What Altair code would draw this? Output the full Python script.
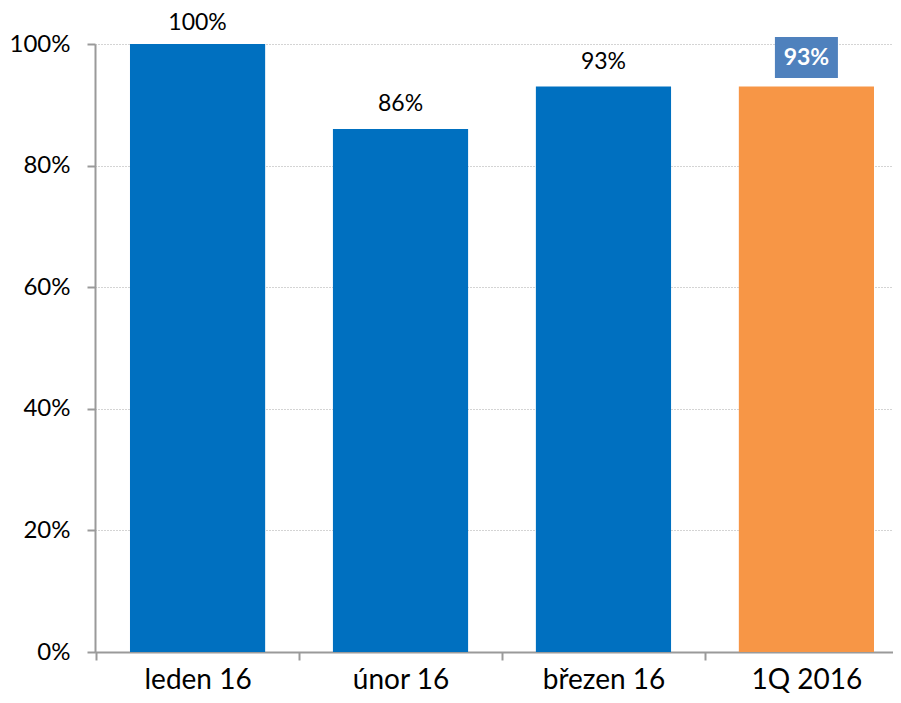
import altair as alt
import pandas as pd

categories = ["leden 16", "únor 16", "březen 16", "1Q 2016"]
values = [100, 86, 93, 93]
groups = ["month", "month", "month", "total"]
labels = ["100%", "86%", "93%", "93%"]
y_ticks = [0, 20, 40, 60, 80, 100]

df = pd.DataFrame({"cat": categories, "value": values, "grp": groups, "label": labels})

FONT = "Lato"
AXIS_GRAY = "#9a9a9a"

x_enc = alt.X(
    "cat:N",
    sort=categories,
    scale=alt.Scale(domain=categories, paddingInner=0.334, paddingOuter=0.133, align=0.648),
    axis=alt.Axis(
        title=None, labelFont=FONT, labelFontSize=28, labelColor="black", labelAngle=0,
        labelBaseline="alphabetic",
        domainColor=AXIS_GRAY, domainWidth=2, tickColor=AXIS_GRAY, tickWidth=2, tickSize=8,
        bandPosition=0, tickOffset=-34, labelOffset=34, labelPadding=28, grid=False,
    ),
)
y_enc = alt.Y(
    "value:Q",
    scale=alt.Scale(domain=[0, 100], nice=False),
    axis=alt.Axis(
        title=None, values=y_ticks, labelExpr="datum.value + '%'",
        labelFont=FONT, labelFontSize=24, labelColor="black", labelPadding=17,
        domainColor=AXIS_GRAY, domainWidth=2, tickColor=AXIS_GRAY, tickWidth=2, tickSize=8,
        grid=True, gridDash=[1, 2], gridColor="#a8a8a8", gridWidth=1,
    ),
)

base = alt.Chart(df)

bars = base.mark_bar().encode(
    x=x_enc,
    y=y_enc,
    color=alt.Color("grp:N", scale=alt.Scale(domain=["month", "total"], range=["#0070C0", "#F79646"]), legend=None),
)

month_labels = base.transform_filter("datum.grp == 'month' && datum.value < 100").mark_text(
    font=FONT, fontSize=23, color="black", baseline="alphabetic", dy=-18
).encode(x=alt.X("cat:N", sort=categories), y="value:Q", text="label:N")

top_label = base.transform_filter("datum.grp == 'month' && datum.value >= 100").mark_text(
    font=FONT, fontSize=23, color="black", baseline="alphabetic", dy=-14
).encode(x=alt.X("cat:N", sort=categories), y="value:Q", text="label:N")

box_shape = "M-1,-0.65L1,-0.65L1,0.65L-1,0.65Z"
total_box = base.transform_filter("datum.grp == 'total'").mark_point(
    shape=box_shape, size=3969, filled=True, color="#4F81BD", opacity=1, yOffset=-29
).encode(x=alt.X("cat:N", sort=categories), y="value:Q")

total_label = base.transform_filter("datum.grp == 'total'").mark_text(
    font=FONT, fontSize=23, fontWeight="bold", color="white", baseline="middle", dy=-29
).encode(x=alt.X("cat:N", sort=categories), y="value:Q", text="label:N")

chart = alt.layer(bars, month_labels, top_label, total_box, total_label).properties(
    width=798,
    height=608,
    autosize=alt.AutoSizeParams(type="none"),
    padding={"left": 87, "top": 36, "right": 0, "bottom": 43},
).configure_view(stroke=None)

chart.save("out.html", embed_options={"renderer": "svg", "actions": False})
